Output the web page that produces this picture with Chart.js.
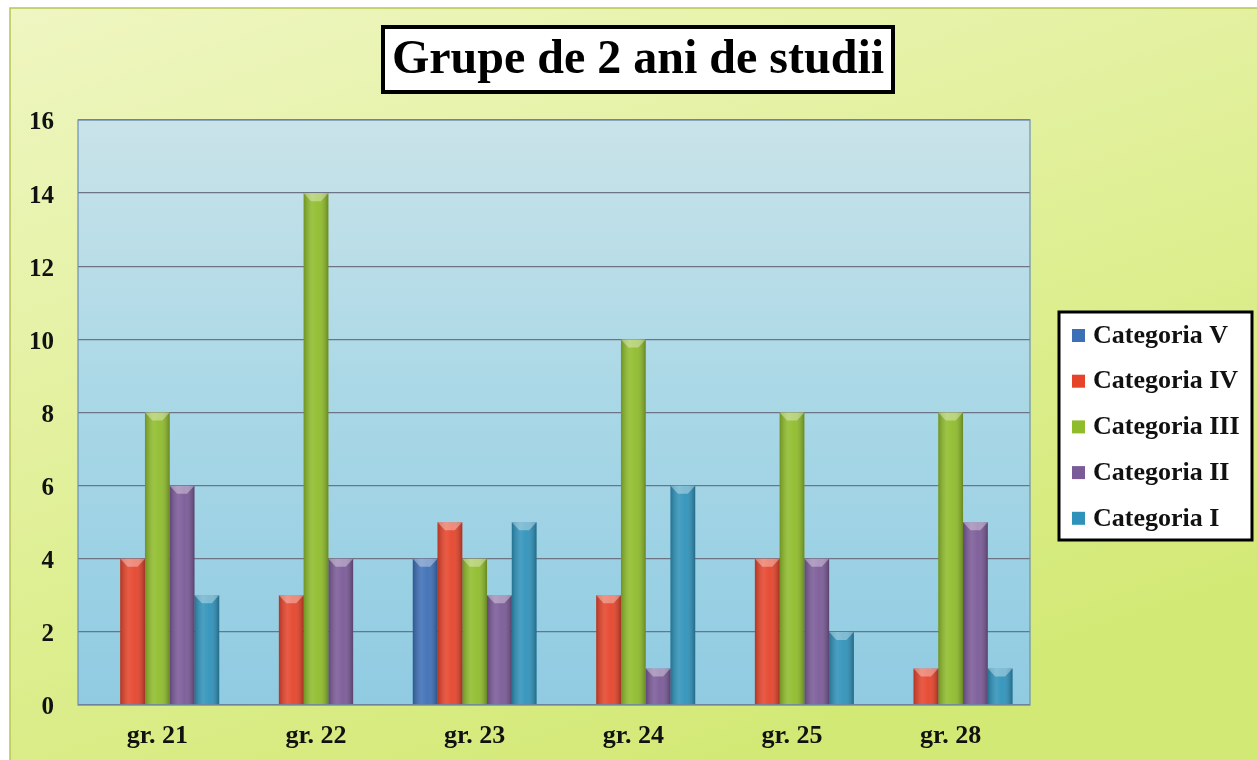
<!DOCTYPE html>
<html>
<head>
<meta charset="utf-8">
<script src="https://cdn.jsdelivr.net/npm/chart.js@4/dist/chart.umd.min.js"></script>
<style>
  html, body { margin: 0; padding: 0; background: #ffffff; }
  #wrap { width: 1257px; height: 760px; }
</style>
</head>
<body>
<div id="wrap"><canvas id="myChart" width="1257" height="760"></canvas></div>
<script>
const ctx = document.getElementById("myChart");

/* data */
var groups = ["gr. 21", "gr. 22", "gr. 23", "gr. 24", "gr. 25", "gr. 28"];
var catV = [0, 0, 4, 0, 0, 0];
var catIV = [4, 3, 5, 3, 4, 1];
var catIII = [8, 14, 4, 10, 8, 8];
var catII = [6, 4, 3, 1, 4, 5];
var catI = [3, 0, 5, 6, 2, 1];
var yTicks = [0, 2, 4, 6, 8, 10, 12, 14, 16];
var titleText = "Grupe de 2 ani de studii";

var serif = "'Liberation Serif', 'Times New Roman', serif";

/* background, plot area, shaded bars, title box and legend box */
const decor = {
  id: "decor",
  beforeDraw(chart) {
    const c = chart.ctx;
    const a = chart.chartArea;
    c.save();
    // page frame
    let g = c.createLinearGradient(0, 8, 300, 900);
    g.addColorStop(0, "#eff6c2");
    g.addColorStop(0.5, "#e1f09a");
    g.addColorStop(1, "#d3e976");
    c.fillStyle = g;
    c.fillRect(10, 8, chart.width - 10, chart.height - 8);
    c.strokeStyle = "#b9c455";
    c.lineWidth = 1.5;
    c.strokeRect(10, 8, chart.width, chart.height);
    // plot area
    g = c.createLinearGradient(0, a.top, 0, a.bottom);
    g.addColorStop(0, "#c9e3e9");
    g.addColorStop(0.5, "#a8d7e6");
    g.addColorStop(1, "#90cbe2");
    c.fillStyle = g;
    c.fillRect(a.left, a.top, a.right - a.left, a.bottom - a.top);
    c.restore();
  },
  afterDatasetsDraw(chart) {
    const c = chart.ctx;
    c.save();
    chart.data.datasets.forEach((ds, i) => {
      chart.getDatasetMeta(i).data.forEach((bar) => {
        const p = bar.getProps(["x", "y", "base", "width"], true);
        if (p.base - p.y < 1) return;
        const l = p.x - p.width / 2;
        const g = c.createLinearGradient(l, 0, l + p.width, 0);
        g.addColorStop(0, "rgba(0,0,0,0.22)");
        g.addColorStop(0.35, "rgba(255,255,255,0.12)");
        g.addColorStop(0.6, "rgba(255,255,255,0.05)");
        g.addColorStop(1, "rgba(0,0,0,0.28)");
        c.fillStyle = g;
        c.fillRect(l, p.y, p.width, p.base - p.y);
        // bevelled top
        c.fillStyle = "rgba(255,255,255,0.35)";
        c.beginPath();
        c.moveTo(l, p.y);
        c.lineTo(l + p.width, p.y);
        c.lineTo(l + p.width * 0.7, p.y + 8);
        c.lineTo(l + p.width * 0.3, p.y + 8);
        c.closePath();
        c.fill();
      });
    });
    const a = chart.chartArea;
    c.strokeStyle = "#6f8fb0";
    c.lineWidth = 1.2;
    c.strokeRect(a.left, a.top, a.right - a.left, a.bottom - a.top);
    c.restore();
  },
  afterDraw(chart) {
    const c = chart.ctx;
    c.save();
    // title
    c.fillStyle = "#ffffff";
    c.fillRect(383, 27, 510, 65);
    c.strokeStyle = "#000000";
    c.lineWidth = 4;
    c.strokeRect(383, 27, 510, 65);
    c.fillStyle = "#000000";
    c.font = "bold 48px " + serif;
    c.textAlign = "center";
    c.textBaseline = "middle";
    c.fillText(titleText, 638, 61);
    // legend
    c.fillStyle = "#ffffff";
    c.fillRect(1059, 312, 193, 228);
    c.lineWidth = 3;
    c.strokeRect(1059, 312, 193, 228);
    c.font = "bold 26px " + serif;
    c.textAlign = "left";
    chart.data.datasets.forEach((ds, i) => {
      const y = 335 + i * 45.7;
      c.fillStyle = ds.backgroundColor;
      c.fillRect(1072, y - 6, 13, 13);
      c.fillStyle = "#111111";
      c.fillText(ds.label, 1093, y + 1);
    });
    c.restore();
  },
};

new Chart(ctx, {
  type: "bar",
  data: {
    labels: groups,
    datasets: [
      { label: "Categoria V", data: catV, backgroundColor: "#3d6fb6" },
      { label: "Categoria IV", data: catIV, backgroundColor: "#e5442b" },
      { label: "Categoria III", data: catIII, backgroundColor: "#8fbc2b" },
      { label: "Categoria II", data: catII, backgroundColor: "#7a5a97" },
      { label: "Categoria I", data: catI, backgroundColor: "#2f92ba" },
    ],
  },
  options: {
    responsive: false,
    animation: false,
    layout: { padding: { top: 120, left: 10, right: 227, bottom: 10 } },
    plugins: {
      legend: { display: false },
      title: { display: false },
      tooltip: { enabled: false },
    },
    datasets: {
      bar: { categoryPercentage: 0.78, barPercentage: 1, borderWidth: 0 },
    },
    scales: {
      x: {
        grid: { display: false, drawTicks: false },
        border: { display: false },
        ticks: { color: "#111111", padding: 16, font: { family: serif, size: 26, weight: "bold" } },
        afterFit: (s) => { s.height = 45; },
      },
      y: {
        min: 0,
        max: 16,
        afterBuildTicks: (s) => { s.ticks = yTicks.map((v) => ({ value: v })); },
        grid: { color: "#6e7386", lineWidth: 1.3, drawTicks: false },
        border: { display: false },
        ticks: { color: "#111111", padding: 24, labelOffset: 3, font: { family: serif, size: 25, weight: "bold" } },
        afterFit: (s) => { s.width = 68; },
      },
    },
  },
  plugins: [decor],
});
</script>
</body>
</html>
